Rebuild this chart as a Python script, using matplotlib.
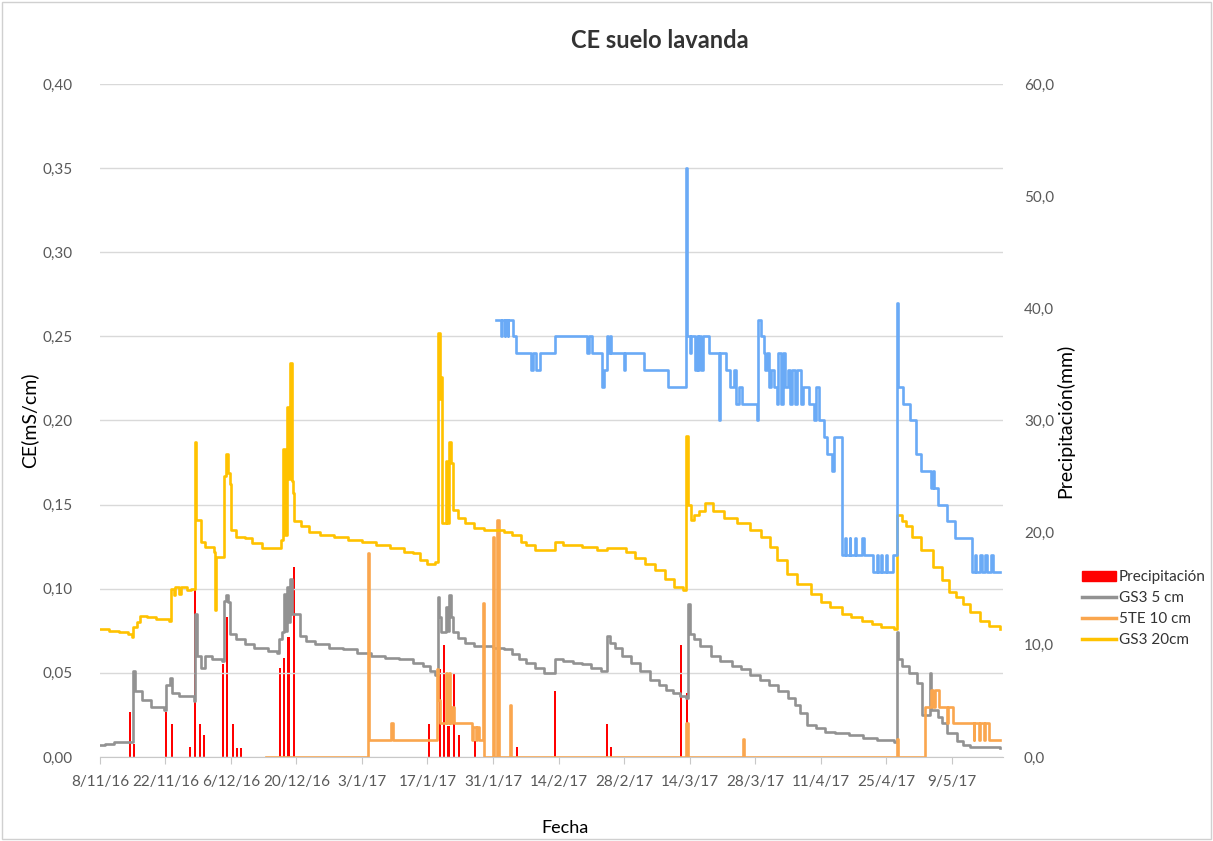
import numpy as np
import matplotlib
matplotlib.use('Agg')
import matplotlib.pyplot as plt
import pandas as pd
from matplotlib.patches import Rectangle, Patch
from matplotlib.lines import Line2D

plt.rcParams['font.family'] = ['Lato', 'DejaVu Sans']

# days counted from 8/11/16
start = pd.Timestamp('2016-11-08')

gs3_5_days = [0, 1, 3, 7.1, 7.4, 9, 11, 13.6, 14.2, 15.0, 15.5, 17, 20.0, 20.4, 20.8, 21.5, 22.5, 24, 26.1,
              26.6, 27.0, 27.4, 27.8, 29, 31, 33, 36, 37.9, 38.3, 38.9, 39.3, 39.6, 40.0, 40.3, 40.7, 41.1,
              42.8, 44, 46, 49, 52, 55, 58, 61, 64, 67, 69, 70.5, 71.5, 72.2, 72.5, 72.8, 74.0, 74.3, 74.6,
              75.0, 75.5, 76.5, 78, 80, 82, 84, 86.3, 88, 89.5, 91, 93, 95, 97.3, 99, 101, 103, 105, 107,
              108.4, 109, 110, 111.5, 113.4, 115.5, 117.6, 119.5, 121, 122.5, 124, 125.3, 125.6, 126.1, 127,
              128.3, 130.5, 132.6, 135, 137, 139, 141, 143, 145, 147, 148.5, 149.7, 151, 153, 155, 157, 160,
              163, 166, 169.6, 170.3, 170.6, 171.5, 173, 174.6, 175.7, 177.4, 177.7, 179, 180, 181, 183.2,
              184.5, 186, 192.4]
gs3_5_vals = [0.007, 0.008, 0.009, 0.051, 0.039, 0.034, 0.030, 0.028, 0.043, 0.047, 0.038, 0.036, 0.033, 0.085,
              0.060, 0.053, 0.060, 0.058, 0.057, 0.093, 0.096, 0.092, 0.073, 0.070, 0.067, 0.065, 0.063, 0.062,
              0.070, 0.074, 0.097, 0.075, 0.101, 0.080, 0.106, 0.085, 0.072, 0.069, 0.067, 0.065, 0.064, 0.062,
              0.060, 0.059, 0.058, 0.056, 0.054, 0.051, 0.049, 0.095, 0.083, 0.074, 0.089, 0.075, 0.096, 0.083,
              0.074, 0.071, 0.068, 0.066, 0.066, 0.065, 0.064, 0.061, 0.058, 0.056, 0.053, 0.050, 0.058, 0.057,
              0.056, 0.055, 0.053, 0.051, 0.072, 0.068, 0.065, 0.060, 0.056, 0.051, 0.046, 0.043, 0.040, 0.038,
              0.036, 0.035, 0.091, 0.073, 0.070, 0.066, 0.060, 0.057, 0.054, 0.052, 0.049, 0.046, 0.043, 0.039,
              0.035, 0.031, 0.026, 0.019, 0.017, 0.015, 0.014, 0.013, 0.011, 0.010, 0.009, 0.074, 0.058, 0.054,
              0.050, 0.044, 0.025, 0.050, 0.028, 0.024, 0.020, 0.014, 0.0095, 0.007, 0.006, 0.0055]

te10_days = [35.4, 57.2, 57.5, 62.3, 62.6, 72.0, 72.3, 72.6, 74.0, 74.2, 74.6, 74.9, 75.3, 75.6, 79.5, 79.8,
             80.3, 80.6, 81.0, 81.8, 82.1, 83.9, 84.2, 84.9, 85.2, 87.6, 87.9, 125.3, 125.6, 137.4, 137.7,
             170.3, 170.5, 176.4, 177.5, 178.1, 178.4, 179.3, 181.0, 181.3, 182.4, 186.7, 186.9, 187.8, 188.0,
             188.9, 189.1, 190.0, 192.4]
te10_vals = [0.0, 0.121, 0.010, 0.020, 0.010, 0.052, 0.034, 0.020, 0.050, 0.020, 0.050, 0.020, 0.030, 0.020,
             0.010, 0.018, 0.010, 0.018, 0.010, 0.0915, 0.0, 0.131, 0.0, 0.141, 0.0, 0.031, 0.0, 0.020, 0.0,
             0.0105, 0.0, 0.0105, 0.0, 0.030, 0.040, 0.030, 0.040, 0.030, 0.020, 0.030, 0.020, 0.010, 0.020,
             0.010, 0.020, 0.010, 0.020, 0.010, 0.010]

gs3_20_days = [0, 2, 4, 6, 6.9, 7.1, 8.0, 8.6, 10, 12, 14.7, 15.2, 15.8, 16.1, 17, 17.3, 18.5, 19.5, 20.4, 20.6,
               21.6, 22.5, 24.3, 24.5, 24.8, 26.6, 27.0, 27.4, 27.8, 28.1, 29, 31, 32.5, 34.7, 38.6, 39.2, 39.5,
               40.0, 40.3, 40.7, 41.0, 41.3, 41.5, 43, 44.6, 47, 50, 53, 56, 59, 62, 65, 67, 68.5, 69.9, 71.5,
               72.3, 72.6, 72.8, 73.1, 73.9, 74.2, 74.6, 75.0, 75.5, 76.5, 78, 80, 82, 86.3, 88, 90, 91, 93,
               97.3, 99, 103, 106.2, 108.4, 112.5, 114.3, 116.5, 118.6, 120.8, 122.6, 124.5, 125.3, 125.6,
               126.3, 126.9, 128, 129.4, 131, 133.3, 136.2, 139, 141.2, 143.3, 144.8, 146.9, 149, 151.9, 154,
               156, 158.5, 160.5, 162.8, 165, 167, 169.6, 170.3, 171.4, 172.2, 173.6, 175.5, 178, 180, 181.5,
               183, 184.5, 186, 188, 190, 192.4]
gs3_20_vals = [0.076, 0.075, 0.074, 0.073, 0.0716, 0.077, 0.080, 0.084, 0.083, 0.082, 0.081, 0.100, 0.096, 0.101,
               0.097, 0.101, 0.099, 0.100, 0.187, 0.141, 0.128, 0.125, 0.122, 0.0875, 0.119, 0.167, 0.180, 0.169,
               0.162, 0.135, 0.131, 0.130, 0.127, 0.124, 0.129, 0.183, 0.132, 0.208, 0.165, 0.234, 0.164, 0.157,
               0.140, 0.137, 0.134, 0.132, 0.131, 0.129, 0.128, 0.126, 0.124, 0.122, 0.121, 0.117, 0.115, 0.116,
               0.252, 0.213, 0.226, 0.139, 0.176, 0.139, 0.187, 0.175, 0.147, 0.142, 0.139, 0.136, 0.135, 0.134,
               0.132, 0.128, 0.126, 0.123, 0.128, 0.126, 0.125, 0.123, 0.124, 0.122, 0.118, 0.1145, 0.111, 0.106,
               0.101, 0.099, 0.191, 0.150, 0.141, 0.144, 0.146, 0.151, 0.146, 0.142, 0.139, 0.135, 0.131, 0.125,
               0.117, 0.109, 0.103, 0.097, 0.092, 0.089, 0.085, 0.083, 0.081, 0.079, 0.077, 0.076, 0.144, 0.140,
               0.137, 0.131, 0.123, 0.113, 0.105, 0.098, 0.095, 0.091, 0.086, 0.081, 0.078, 0.076]

blue_days = [84.7, 85.8, 85.9, 86.5, 86.6, 87.2, 87.3, 88.3, 89.0, 92.1, 92.6, 93.2, 94.0, 97.3, 104.1, 104.5,
             105.2, 107.4, 107.8, 108.3, 108.6, 108.9, 109.2, 112.0, 112.3, 116.3, 121.5, 125.3, 125.5, 126.1,
             126.4, 127.2, 127.5, 127.8, 128.1, 128.5, 128.8, 130.1, 132.3, 132.5, 133.9, 134.7, 135.4, 136.0,
             136.5, 137.2, 140.5, 140.6, 141.2, 141.9, 142.2, 142.6, 143.0, 143.5, 144.0, 144.6, 145.0, 145.6,
             146.0, 146.5, 147.0, 147.5, 148.0, 148.5, 149.0, 149.8, 150.3, 151.5, 152.5, 153.0, 153.6, 154.7,
             155.4, 156.5, 156.8, 158.6, 159.2, 159.4, 160.2, 160.4, 161.3, 161.5, 162.9, 163.3, 165.3, 166.0,
             166.2, 167.0, 167.2, 168.0, 168.2, 169.5, 170.3, 170.5, 171.7, 173.2, 174.5, 175.4, 177.5, 178.0,
             178.3, 179.2, 181.0, 182.8, 185.3, 186.4, 187.0, 187.3, 188.1, 188.4, 189.2, 189.5, 190.5, 190.9,
             192.4]
blue_vals = [0.26, 0.25, 0.26, 0.25, 0.26, 0.25, 0.26, 0.25, 0.24, 0.23, 0.24, 0.23, 0.24, 0.25, 0.24, 0.25,
             0.24, 0.22, 0.23, 0.25, 0.24, 0.25, 0.24, 0.23, 0.24, 0.23, 0.22, 0.35, 0.25, 0.24, 0.25, 0.23,
             0.25, 0.23, 0.25, 0.23, 0.25, 0.24, 0.20, 0.24, 0.23, 0.22, 0.23, 0.21, 0.22, 0.21, 0.20, 0.26,
             0.25, 0.24, 0.23, 0.24, 0.22, 0.23, 0.22, 0.21, 0.24, 0.21, 0.24, 0.22, 0.23, 0.21, 0.23, 0.21,
             0.23, 0.21, 0.22, 0.21, 0.20, 0.22, 0.20, 0.19, 0.18, 0.17, 0.19, 0.12, 0.13, 0.12, 0.13, 0.12,
             0.13, 0.12, 0.13, 0.12, 0.11, 0.12, 0.11, 0.12, 0.11, 0.12, 0.11, 0.12, 0.27, 0.22, 0.21, 0.20,
             0.18, 0.17, 0.16, 0.17, 0.16, 0.15, 0.14, 0.13, 0.13, 0.11, 0.12, 0.11, 0.12, 0.11, 0.12, 0.11,
             0.12, 0.11, 0.11]

rain_days = [6.4, 7.2, 14.2, 15.4, 19.3, 20.4, 21.3, 22.2, 26.3, 27.2, 28.5, 29.3, 30.2, 38.4, 39.3, 40.3, 41.4,
             70.3, 72.6, 73.5, 74.5, 75.6, 76.7, 80.2, 89.1, 97.2, 108.4, 109.3, 124.2, 125.5]
rain_mm = [4.0, 1.2, 4.0, 2.9, 0.9, 14.9, 2.9, 2.0, 8.3, 12.5, 2.9, 0.8, 0.8, 7.9, 8.8, 10.7, 16.9,
           2.9, 7.8, 10.0, 2.8, 7.5, 2.0, 1.4, 0.9, 5.9, 2.9, 0.9, 10.0, 5.7]


def to_dates(days):
    return start + pd.to_timedelta(np.array(days), unit='D')


fig = plt.figure(figsize=(12.13, 8.41), dpi=100)
fig.patches.append(Rectangle((0.002, 0.002), 0.996, 0.996, transform=fig.transFigure,
                             fill=False, edgecolor='#D0D0D0', lw=1))

ax1 = fig.add_axes([0.0824, 0.0999, 0.7445, 0.8002])
ax2 = ax1.twinx()
ax1.set_zorder(ax2.get_zorder() + 1)
ax1.patch.set_visible(False)

ax2.bar(to_dates(rain_days), rain_mm, width=0.45, color='#FF0000', zorder=2)

lw = 1.9
ax1.plot(to_dates(gs3_5_days), gs3_5_vals, drawstyle='steps-post', color='#929292', lw=lw)
ax1.plot(to_dates(te10_days), te10_vals, drawstyle='steps-post', color='#FAA64E', lw=lw)
ax1.plot(to_dates(gs3_20_days), gs3_20_vals, drawstyle='steps-post', color='#FFC200', lw=lw)
ax1.plot(to_dates(blue_days), blue_vals, drawstyle='steps-post', color='#6AAAF6', lw=lw)

ax1.set_xlim(start, start + pd.Timedelta(days=193))
ax1.set_ylim(0, 0.40)
ax2.set_ylim(0, 60)

ticks = pd.date_range(start, periods=14, freq='14D')
ax1.set_xticks(ticks)
ax1.set_xticklabels([f"{d.day}/{d.month}/{d.strftime('%y')}" for d in ticks])

yt = np.arange(0, 0.41, 0.05)
ax1.set_yticks(yt)
ax1.set_yticklabels([f"{v:.2f}".replace('.', ',') for v in yt])
rt = np.arange(0, 61, 10)
ax2.set_yticks(rt)
ax2.set_yticklabels([f"{v:.1f}".replace('.', ',') for v in rt])

ax1.yaxis.grid(True, color='#D9D9D9', lw=1)
ax1.set_axisbelow(True)
for a in (ax1, ax2):
    for s in ('top', 'left', 'right'):
        a.spines[s].set_visible(False)
    a.spines['bottom'].set_color('#C8C8C8')
ax2.spines['bottom'].set_visible(False)

ax1.tick_params(axis='x', length=5, color='#C8C8C8', labelsize=11, labelcolor='#595959', pad=8)
ax1.tick_params(axis='y', length=0, labelsize=11, labelcolor='#595959', pad=20)
ax2.tick_params(axis='y', length=0, labelsize=11, labelcolor='#595959', pad=15)

fig.text(0.544, 0.952, 'CE suelo lavanda', ha='center', va='center', fontsize=17, fontweight='bold', color='#333333')
fig.text(0.024, 0.50, 'CE(mS/cm)', rotation=90, ha='center', va='center', fontsize=14)
fig.text(0.878, 0.50, 'Precipitación(mm)', rotation=90, ha='center', va='center', fontsize=14)
fig.text(0.466, 0.015, 'Fecha', ha='center', va='center', fontsize=13)

handles = [Patch(color='#FF0000'),
           Line2D([], [], color='#929292', lw=2.5),
           Line2D([], [], color='#FAA64E', lw=2.5),
           Line2D([], [], color='#FFC200', lw=2.5)]
labels = ['Precipitación', 'GS3 5 cm', '5TE 10 cm', 'GS3 20cm']
fig.legend(handles, labels, loc='upper left', bbox_to_anchor=(0.881, 0.338), frameon=False,
           fontsize=11, handlelength=2.2, handletextpad=0.2, labelspacing=0.45, labelcolor='#333333')

fig.savefig('out.png', dpi=100)
